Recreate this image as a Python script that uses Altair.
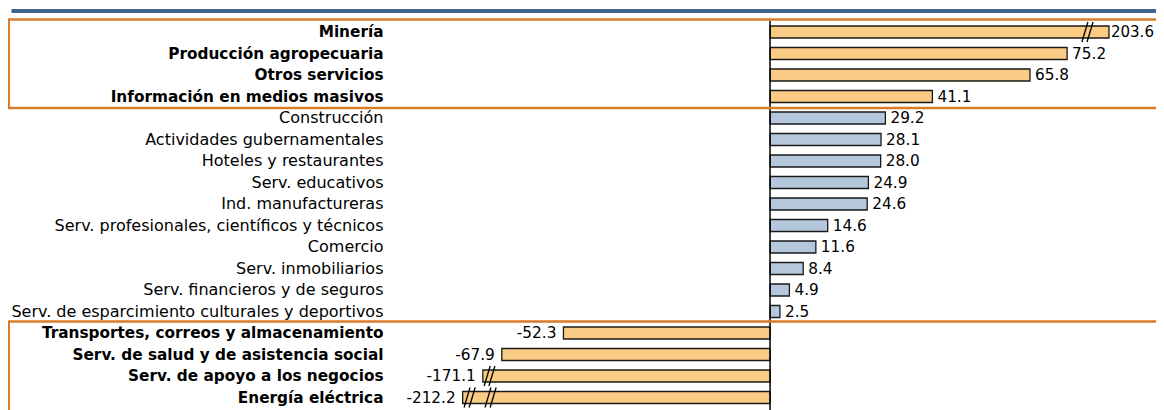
import json
import altair as alt
import pandas as pd

# ---- data ----
categories = [
    "Minería",
    "Producción agropecuaria",
    "Otros servicios",
    "Información en medios masivos",
    "Construcción",
    "Actividades gubernamentales",
    "Hoteles y restaurantes",
    "Serv. educativos",
    "Ind. manufactureras",
    "Serv. profesionales, científicos y técnicos",
    "Comercio",
    "Serv. inmobiliarios",
    "Serv. financieros y de seguros",
    "Serv. de esparcimiento culturales y deportivos",
    "Transportes, correos y almacenamiento",
    "Serv. de salud y de asistencia social",
    "Serv. de apoyo a los negocios",
    "Energía eléctrica",
]
values = [203.6, 75.2, 65.8, 41.1, 29.2, 28.1, 28.0, 24.9, 24.6, 14.6,
          11.6, 8.4, 4.9, 2.5, -52.3, -67.9, -171.1, -212.2]
highlighted = [True] * 4 + [False] * 10 + [True] * 4

# bars cut by an axis break: drawn length
broken_names = ["Minería", "Serv. de apoyo a los negocios", "Energía eléctrica"]
broken_lengths = [85.8, -72.7, -77.8]

# break marks ("//") on the cut bars
break_cats = ["Minería", "Minería",
              "Serv. de apoyo a los negocios", "Serv. de apoyo a los negocios",
              "Energía eléctrica", "Energía eléctrica", "Energía eléctrica", "Energía eléctrica"]
break_pos = [79.7, 81.0, -71.6, -70.4, -76.7, -75.4, -71.4, -70.1]

ORANGE_FILL = "#FACB84"
BLUE_FILL = "#B4C7DD"
LINE_ORANGE = "#D97B2B"
TOP_BLUE = "#41648F"
FONT = "DejaVu Sans"

shown = dict(zip(broken_names, broken_lengths))
df = pd.DataFrame({
    "cat": categories,
    "value": values,
    "shown": [shown.get(c, v) for c, v in zip(categories, values)],
    "base0": [0.0] * len(values),
    "group": ["hi" if h else "base" for h in highlighted],
    "label": [f"{v:.1f}" for v in values],
    "broken": [c in shown for c in categories],
})
breaks = pd.DataFrame({"cat": break_cats, "pos": break_pos})

bold_list = [c for c, h in zip(categories, highlighted) if h]
bold_js = json.dumps(bold_list, ensure_ascii=False)

W, H = 1148, 387
xscale = alt.Scale(domain=[-192.9, 97.7], nice=False)
yscale = alt.Scale(domain=categories, paddingInner=0.44, paddingOuter=0.22)

y_axis = alt.Axis(
    title=None, domain=False, ticks=False, tickSize=0, grid=False,
    labelPadding=-375, labelLimit=700, labelAlign="right", labelBaseline="middle",
    labelFont=FONT, labelColor="#000000",
    labelFontSize=alt.expr(f"indexof({bold_js}, datum.value) >= 0 ? 15.3 : 16"),
    labelFontWeight=alt.expr(f"indexof({bold_js}, datum.value) >= 0 ? 'bold' : 'normal'"),
)
y_enc = alt.Y("cat:N", sort=categories, scale=yscale, axis=y_axis)
y_plain = alt.Y("cat:N", sort=categories)

base = alt.Chart(df)

bars = base.mark_bar(stroke="#1a1a1a", strokeWidth=1.3).encode(
    x=alt.X("shown:Q", scale=xscale, axis=None),
    x2="base0:Q",
    y=y_enc,
    color=alt.Color("group:N", scale=alt.Scale(domain=["hi", "base"],
                                               range=[ORANGE_FILL, BLUE_FILL]), legend=None),
)

txt_pos = base.transform_filter("datum.value >= 0 && !datum.broken").mark_text(
    align="left", baseline="middle", dx=5, font=FONT, fontSize=15.3, color="#000000"
).encode(x="shown:Q", y=y_plain, text="label:N")

txt_pos_broken = base.transform_filter("datum.value >= 0 && datum.broken").mark_text(
    align="left", baseline="middle", dx=2, font=FONT, fontSize=15, color="#000000"
).encode(x="shown:Q", y=y_plain, text="label:N")

txt_neg = base.transform_filter("datum.value < 0").mark_text(
    align="right", baseline="middle", dx=-7, font=FONT, fontSize=15.3, color="#000000"
).encode(x="shown:Q", y=y_plain, text="label:N")

slashes = alt.Chart(breaks).mark_point(
    shape="M-0.3,1L0.3,-1", size=400, filled=False, stroke="#000000", strokeWidth=1.3, opacity=1
).encode(x="pos:Q", y=y_plain)

one = pd.DataFrame({"k": [0]})

zero_line = alt.Chart(one).mark_rule(color="#000000", strokeWidth=1.5).encode(
    x=alt.datum(0), y=alt.value(-0.75), y2=alt.value(400)
)

top_blue = alt.Chart(one).mark_rule(color=TOP_BLUE, strokeWidth=4).encode(
    x=alt.value(3.5), x2=alt.value(1148), y=alt.value(-10.25)
)


def hline(y):
    return alt.Chart(one).mark_rule(color=LINE_ORANGE, strokeWidth=2.5).encode(
        x=alt.value(0), x2=alt.value(1148), y=alt.value(y)
    )


def vline(y1, y2):
    return alt.Chart(one).mark_rule(color=LINE_ORANGE, strokeWidth=2.5).encode(
        x=alt.value(0.75), y=alt.value(y1), y2=alt.value(y2)
    )


chart = alt.layer(
    bars, slashes, zero_line, txt_pos, txt_pos_broken, txt_neg,
    top_blue, hline(-1.75), hline(86.75), hline(300.25),
    vline(-1.75, 86.75), vline(300.25, 402),
).properties(
    width=W, height=H,
    autosize=alt.AutoSizeParams(type="none"),
    padding={"left": 0, "top": 13.25, "right": 0, "bottom": 2},
    background="white",
).configure_view(stroke=None)

chart.save("out.html", embed_options={"renderer": "svg", "actions": False})
